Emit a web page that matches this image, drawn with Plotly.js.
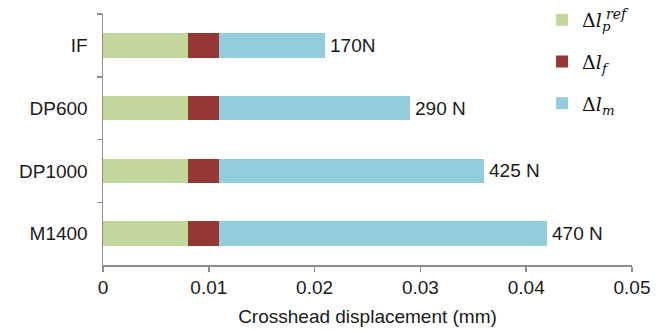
<!DOCTYPE html>
<html>
<head>
<meta charset="utf-8">
<script src="https://cdn.plot.ly/plotly-3.0.1.min.js"></script>
<style>
  html, body { margin: 0; padding: 0; background: #fff; }
  #chart { width: 664px; height: 330px; }
</style>
</head>
<body>
<div id="chart"></div>
<script>
// Steel grades, top to bottom
const grades = ["IF", "DP600", "DP1000", "M1400"];

// Crosshead displacement components (mm)
const dlPref = [0.008, 0.008, 0.008, 0.008];
const dlF    = [0.003, 0.003, 0.003, 0.003];
const dlM    = [0.010, 0.018, 0.025, 0.031];

// Load reached by each grade
const loadLabels = ["170N", "290 N", "425 N", "470 N"];

const totals = grades.map((_, i) => dlPref[i] + dlF[i] + dlM[i]);

const fontFam = "Liberation Sans, Arial, sans-serif";
const mathFam = "DejaVu Serif, Liberation Serif, serif";

function seg(x, name, color, grp) {
  return {
    type: "bar", orientation: "h",
    y: grades, x: x, name: name,
    legendgroup: grp,
    marker: { color: color, line: { width: 0 } },
    width: 0.39,
    hoverinfo: "skip"
  };
}

const traces = [
  seg(dlPref, "Δ<i>l</i><sub><i>p</i></sub>", "#C3D69B", "a"),
  seg(dlF,    "Δ<i>l</i><sub><i>f</i></sub>", "#953735", "b"),
  seg(dlM,    "Δ<i>l</i><sub><i>m</i></sub>", "#93CDDD", "c")
];

// Load labels sit just past the end of each stacked bar
const loadNotes = grades.map((g, i) => ({
  xref: "x", yref: "y", x: totals[i], y: g,
  xanchor: "left", yanchor: "middle", xshift: 3,
  text: loadLabels[i], showarrow: false,
  font: { family: fontFam, size: 19, color: "#1a1a1a" }
}));

// Superscript of the plastic-elongation legend symbol
const refNote = {
  xref: "paper", yref: "paper",
  x: 0.947, y: 1.0, xanchor: "left", yanchor: "middle",
  text: "<i>ref</i>", showarrow: false,
  font: { family: mathFam, size: 14, color: "#111" }
};

const layout = {
  width: 664, height: 330,
  margin: { l: 103, r: 32, t: 14, b: 65, autoexpand: false },
  paper_bgcolor: "#fff", plot_bgcolor: "#fff",
  barmode: "stack",
  font: { family: fontFam, size: 19, color: "#1a1a1a" },
  xaxis: {
    range: [0, 0.05], dtick: 0.01, tick0: 0,
    showgrid: false, zeroline: false,
    showline: true, linecolor: "#8c8c8c", linewidth: 1.5,
    ticks: "outside", ticklen: 5, tickcolor: "#8c8c8c", tickwidth: 1.5,
    ticklabelstandoff: 0,
    tickfont: { size: 19 },
    title: { text: "Crosshead displacement (mm)", font: { size: 19 }, standoff: 12 },
    fixedrange: true
  },
  yaxis: {
    autorange: "reversed",
    showgrid: false, zeroline: false,
    showline: true, linecolor: "#8c8c8c", linewidth: 1.5,
    ticks: "outside", ticklen: 5, tickcolor: "#8c8c8c", tickwidth: 1.5,
    tickson: "boundaries",
    ticklabelstandoff: 10,
    tickfont: { size: 19 },
    fixedrange: true
  },
  showlegend: true,
  legend: {
    x: 0.83, y: 1.052, xanchor: "left", yanchor: "top",
    traceorder: "grouped", tracegroupgap: 14,
    bgcolor: "rgba(0,0,0,0)",
    font: { family: mathFam, size: 19, color: "#111" },
    itemwidth: 30
  },
  annotations: loadNotes.concat([refNote])
};

Plotly.newPlot("chart", traces, layout, { displayModeBar: false, staticPlot: true });
</script>
</body>
</html>
